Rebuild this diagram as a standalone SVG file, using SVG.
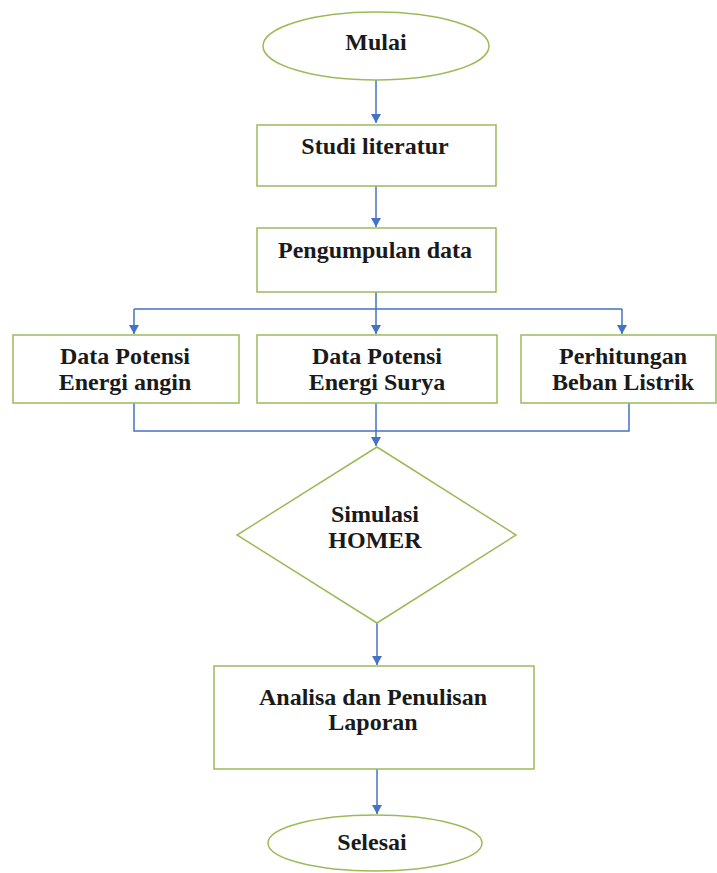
<svg xmlns="http://www.w3.org/2000/svg" width="717" height="873" viewBox="0 0 717 873">
<style>
.n{fill:#ffffff;stroke:#9bbb59;stroke-width:1.5}
.t{font-family:"Liberation Serif","Times New Roman",serif;font-weight:bold;font-size:24px;fill:#1a1a1a;text-anchor:middle}
.c{fill:none;stroke:#4472c4;stroke-width:1.5}
</style>
<defs>
<marker id="ah" markerWidth="10" markerHeight="10" refX="9" refY="5" orient="auto" markerUnits="userSpaceOnUse">
<path d="M0,0 L9,5 L0,10 Z" fill="#4472c4"/>
</marker>
</defs>
<rect width="717" height="873" fill="#ffffff"/>
<g id="connectors">
<path class="c" d="M376,80 V123" marker-end="url(#ah)"/>
<path class="c" d="M376,186 V227" marker-end="url(#ah)"/>
<path class="c" d="M376,292 V309 M134,309 H622"/>
<path class="c" d="M134,309 V334" marker-end="url(#ah)"/>
<path class="c" d="M376,309 V334" marker-end="url(#ah)"/>
<path class="c" d="M622,309 V334" marker-end="url(#ah)"/>
<path class="c" d="M134,403 V431 H629 V403"/>
<path class="c" d="M376,403 V446" marker-end="url(#ah)"/>
<path class="c" d="M377,623 V665" marker-end="url(#ah)"/>
<path class="c" d="M377,769 V814" marker-end="url(#ah)"/>
</g>
<g id="mulai">
<ellipse class="n" cx="376" cy="46" rx="113" ry="34"/>
<text class="t" x="376" y="50">Mulai</text>
</g>
<g id="studi">
<rect class="n" x="257" y="125" width="239" height="61"/>
<text class="t" x="375" y="154">Studi literatur</text>
</g>
<g id="pengumpulan">
<rect class="n" x="257" y="228" width="239" height="64"/>
<text class="t" x="375" y="258">Pengumpulan data</text>
</g>
<g id="angin">
<rect class="n" x="13" y="335" width="226" height="68"/>
<text class="t" x="125" y="364">Data Potensi</text>
<text class="t" x="125" y="390">Energi angin</text>
</g>
<g id="surya">
<rect class="n" x="257" y="335" width="240" height="68"/>
<text class="t" x="377" y="364">Data Potensi</text>
<text class="t" x="377" y="390">Energi Surya</text>
</g>
<g id="beban">
<rect class="n" x="521" y="335" width="195" height="68"/>
<text class="t" x="623" y="364">Perhitungan</text>
<text class="t" x="623" y="390">Beban Listrik</text>
</g>
<g id="homer">
<polygon class="n" points="377,447 516,535 377,623 237,535"/>
<text class="t" x="375" y="522">Simulasi</text>
<text class="t" x="375" y="548">HOMER</text>
</g>
<g id="analisa">
<rect class="n" x="214" y="666" width="320" height="103"/>
<text class="t" x="373" y="705">Analisa dan Penulisan</text>
<text class="t" x="373" y="730">Laporan</text>
</g>
<g id="selesai">
<ellipse class="n" cx="375" cy="843" rx="107" ry="28"/>
<text class="t" x="372" y="850">Selesai</text>
</g>
</svg>
